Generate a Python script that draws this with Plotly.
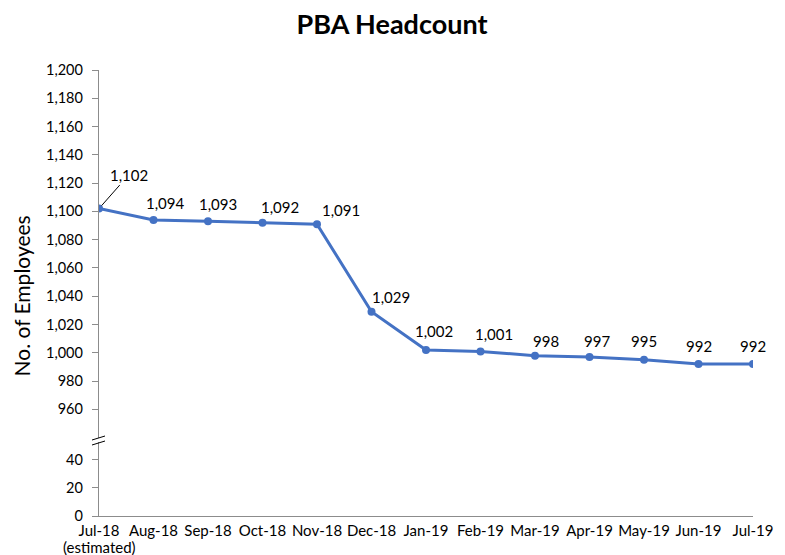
import plotly.graph_objects as go

# ---- data ----
months = ["Jul-18", "Aug-18", "Sep-18", "Oct-18", "Nov-18", "Dec-18",
          "Jan-19", "Feb-19", "Mar-19", "Apr-19", "May-19", "Jun-19", "Jul-19"]
tick_labels = ["Jul-18", "Aug-18", "Sep-18", "Oct-18", "Nov-18", "Dec-18",
               "Jan-19", "Feb-19", "Mar-19", "Apr-19", "May-19", "Jun-19", "Jul-19"]
first_note = "(estimated)"
headcount = [1102, 1094, 1093, 1092, 1091, 1029, 1002, 1001, 998, 997, 995, 992, 992]
upper_ticks = [960, 980, 1000, 1020, 1040, 1060, 1080, 1100, 1120, 1140, 1160, 1180, 1200]
lower_ticks = [0, 20, 40]

# ---- styling / layout geometry ----
FONT = "Lato, Carlito, Calibri, sans-serif"
LINE_BLUE = "#4472C4"
AXIS_GRAY = "#8C8C8C"
OFF = 8                      # browser body margin
W, HGT = 785 - 2 * OFF, 555 - OFF
# absolute (window) pixel positions of the plot area
ABS_L, ABS_R, ABS_T, ABS_B = 99, 752.7, 70, 516
ML, MT = ABS_L - OFF, ABS_T - OFF
MR = W - (ABS_R - OFF)
MB = HGT - (ABS_B - OFF)
PW = ABS_R - ABS_L
PH = ABS_B - ABS_T
PX_PER_UNIT = 1.414
Y2_TOP_ABS = 442   # top of lower segment
Y_BOT_ABS = 438    # bottom of upper segment

y2_domain = [0, (ABS_B - Y2_TOP_ABS) / PH]
y2_range = [0, (ABS_B - Y2_TOP_ABS) / PX_PER_UNIT]
y_domain = [(ABS_B - Y_BOT_ABS) / PH, 1]
y_top = 1200
y_range = [y_top - (Y_BOT_ABS - ABS_T) / PX_PER_UNIT, y_top]

# data label offsets (pixels)
label_dx = [30, 12, 10, 17, 24, 19, 8, 13, 11, 7, 0, 0, 0]
label_dy = [34, 17, 17, 16, 14, 15, 19, 17, 15, 16, 19, 18, 18]

fig = go.Figure()
fig.add_trace(go.Scatter(
    x=months, y=headcount, mode="lines+markers",
    line=dict(color=LINE_BLUE, width=3),
    marker=dict(color=LINE_BLUE, size=8),
    xaxis="x", yaxis="y", showlegend=False, hoverinfo="x+y",
))
# empty trace so the lower (broken) axis segment exists
fig.add_trace(go.Scatter(
    x=[months[0]], y=[None], mode="markers", xaxis="x", yaxis="y2",
    showlegend=False, hoverinfo="skip",
))

label_font = dict(family=FONT, size=15, color="#000000")
annotations = []
for i, (m, v) in enumerate(zip(months, headcount)):
    if i == 0:
        annotations.append(dict(
            x=m, y=v, xref="x", yref="y", text=f"{v:,}",
            showarrow=True, arrowhead=0, arrowwidth=1, arrowcolor="#000000",
            ax=label_dx[i], ay=-label_dy[i], standoff=4, font=label_font,
        ))
    else:
        annotations.append(dict(
            x=m, y=v, xref="x", yref="y", text=f"{v:,}", showarrow=False,
            xshift=label_dx[i], yshift=label_dy[i], font=label_font,
        ))

annotations.append(dict(
    text="No. of Employees", textangle=-90, showarrow=False,
    xref="paper", yref="paper",
    x=(22 - ABS_L) / PW, y=(ABS_B - 295.5) / PH,
    xanchor="center", yanchor="middle",
    font=dict(family=FONT, size=21, color="#000000"),
))
# second line of the first category label
annotations.append(dict(
    text=first_note, showarrow=False, xref="x", yref="paper",
    x=months[0], y=(ABS_B - 546.5) / PH, xanchor="center", yanchor="middle",
    font=dict(family=FONT, size=15, color="#000000"),
))

anchor_y = (ABS_B - 440.5) / PH
shapes = [
    dict(type="line", xref="paper", yref="paper", xsizemode="pixel", ysizemode="pixel",
         xanchor=0, yanchor=anchor_y, x0=-7, y0=0.5, x1=6, y1=4.5,
         line=dict(color="#000000", width=1)),
    dict(type="line", xref="paper", yref="paper", xsizemode="pixel", ysizemode="pixel",
         xanchor=0, yanchor=anchor_y, x0=-7, y0=-4.5, x1=6, y1=-0.5,
         line=dict(color="#000000", width=1)),
]

ytick_font = dict(family=FONT, size=14.5, color="#000000")
xtick_font = dict(family=FONT, size=15, color="#000000")

fig.update_layout(
    width=W, height=HGT,
    margin=dict(l=ML, r=MR, t=MT, b=MB, autoexpand=False),
    paper_bgcolor="white", plot_bgcolor="white",
    title=dict(text="<b>PBA Headcount</b>", xref="container", x=(392 - OFF) / W,
               xanchor="center", yref="container",
               y=1 - (25 - OFF) / HGT, yanchor="middle",
               font=dict(family=FONT, size=27, color="#000000")),
    xaxis=dict(
        type="category", range=[0, len(months) - 1], anchor="y2",
        tickmode="array", tickvals=months, ticktext=tick_labels,
        tickangle=0, automargin=False, ticklabelstandoff=1,
        showline=True, linecolor=AXIS_GRAY, linewidth=1.3,
        ticks="", showgrid=False, zeroline=False, tickfont=xtick_font,
    ),
    yaxis=dict(
        domain=y_domain, range=y_range, anchor="x", automargin=False,
        tickmode="array", tickvals=upper_ticks, tickformat=",d",
        showline=True, linecolor=AXIS_GRAY, linewidth=1.3,
        ticks="outside", ticklen=6, tickcolor=AXIS_GRAY, ticklabelstandoff=6,
        showgrid=False, zeroline=False, tickfont=ytick_font,
    ),
    yaxis2=dict(
        domain=y2_domain, range=y2_range, anchor="x", automargin=False,
        tickmode="array", tickvals=lower_ticks,
        showline=True, linecolor=AXIS_GRAY, linewidth=1.3,
        ticks="outside", ticklen=6, tickcolor=AXIS_GRAY, ticklabelstandoff=6,
        showgrid=False, zeroline=False, tickfont=ytick_font,
    ),
    annotations=annotations,
    shapes=shapes,
)

fig.write_html("out.html")
